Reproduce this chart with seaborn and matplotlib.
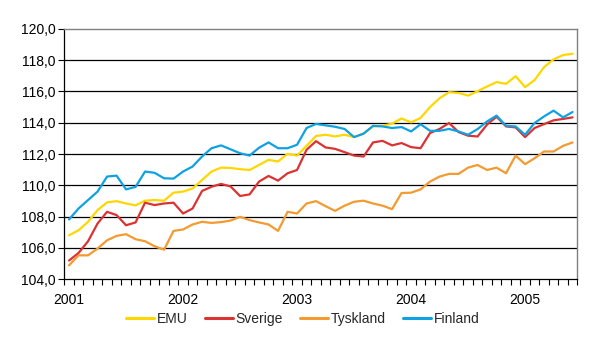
import numpy as np
import pandas as pd
import matplotlib
matplotlib.use("Agg")
import matplotlib.pyplot as plt
import seaborn as sns

# Monthly index values, January 2001 - June 2005
emu = [106.81, 107.13, 107.67, 108.42, 108.91, 108.99, 108.84, 108.72, 109.02, 109.06,
       109.02, 109.53, 109.60, 109.80, 110.34, 110.88, 111.13, 111.11, 111.03, 110.98,
       111.30, 111.63, 111.52, 112.01, 111.90, 112.52, 113.15, 113.23, 113.12, 113.23,
       113.08, 113.30, 113.76, 113.80, 113.94, 114.27, 114.02, 114.30, 115.00, 115.56,
       115.95, 115.90, 115.73, 116.01, 116.31, 116.59, 116.48, 116.97, 116.27, 116.72,
       117.55, 118.04, 118.32, 118.40]
sverige = [105.20, 105.68, 106.43, 107.56, 108.31, 108.10, 107.45, 107.63, 108.89, 108.74,
           108.84, 108.89, 108.20, 108.52, 109.64, 109.91, 110.09, 109.93, 109.32, 109.42,
           110.24, 110.60, 110.30, 110.77, 110.98, 112.27, 112.82, 112.42, 112.33, 112.12,
           111.90, 111.84, 112.74, 112.84, 112.55, 112.70, 112.44, 112.37, 113.34, 113.60,
           113.98, 113.40, 113.17, 113.12, 113.88, 114.38, 113.76, 113.70, 113.08, 113.66,
           113.91, 114.15, 114.24, 114.34]
tyskland = [104.89, 105.53, 105.53, 105.96, 106.49, 106.77, 106.88, 106.56, 106.43, 106.11,
            105.89, 107.09, 107.18, 107.50, 107.67, 107.60, 107.65, 107.75, 107.99, 107.78,
            107.63, 107.50, 107.09, 108.31, 108.20, 108.84, 108.99, 108.67, 108.37, 108.70,
            108.95, 109.02, 108.84, 108.70, 108.48, 109.51, 109.53, 109.74, 110.24, 110.56,
            110.73, 110.73, 111.13, 111.30, 110.98, 111.13, 110.77, 111.90, 111.35, 111.73,
            112.16, 112.16, 112.52, 112.74]
finland = [107.82, 108.52, 109.06, 109.60, 110.56, 110.62, 109.74, 109.90, 110.88, 110.80,
           110.45, 110.43, 110.88, 111.20, 111.84, 112.37, 112.55, 112.30, 112.05, 111.90,
           112.40, 112.74, 112.37, 112.37, 112.59, 113.66, 113.92, 113.83, 113.74, 113.60,
           113.08, 113.30, 113.80, 113.76, 113.66, 113.72, 113.44, 113.90, 113.48, 113.48,
           113.60, 113.44, 113.23, 113.59, 114.08, 114.45, 113.80, 113.76, 113.23, 113.98,
           114.40, 114.77, 114.34, 114.68]

series_names = ["EMU", "Sverige", "Tyskland", "Finland"]
series_colors = ["#FFD700", "#DC3232", "#F39A30", "#0EA2E2"]
year_labels = ["2001", "2002", "2003", "2004", "2005"]

months = np.arange(len(emu))
df = pd.concat([
    pd.DataFrame({"month": months, "value": vals, "series": name})
    for name, vals in zip(series_names, [emu, sverige, tyskland, finland])
])

sns.set_theme(style="white")
plt.rcParams["font.family"] = ["Liberation Sans", "DejaVu Sans"]

fig = plt.figure(figsize=(6.02, 3.38), dpi=100)
ax = fig.add_axes([0.1068, 0.1737, 0.8522, 0.7413])

sns.lineplot(data=df, x="month", y="value", hue="series", hue_order=series_names,
             palette=series_colors, linewidth=1.6, ax=ax, legend=True)

ax.set_xlim(-0.5, len(emu) - 0.5)
ax.set_ylim(104, 120)
ax.set_yticks(np.arange(104, 120.1, 2))
ax.set_yticklabels([f"{v:.1f}".replace(".", ",") for v in np.arange(104, 120.1, 2)],
                   fontsize=10, color="black")
ax.set_xticks(np.arange(0, len(emu), 12))
ax.set_xticklabels(year_labels, fontsize=10, color="black")
ax.set_xticks(np.arange(-0.5, len(emu), 1), minor=True)
ax.tick_params(axis="x", which="major", length=0, pad=10)
ax.tick_params(axis="x", which="minor", length=4, width=0.8, color="black", direction="out", bottom=True)
ax.tick_params(axis="y", which="major", length=4, width=0.8, color="black", direction="out", left=True, pad=2)
ax.set_xlabel("")
ax.set_ylabel("")

for y in np.arange(106, 120, 2):
    ax.axhline(y, color="black", linewidth=0.9, zorder=0)

for side in ["left", "bottom"]:
    ax.spines[side].set_color("black")
    ax.spines[side].set_linewidth(0.9)
for side in ["top", "right"]:
    ax.spines[side].set_color("#808080")
    ax.spines[side].set_linewidth(1.0)
    ax.spines[side].set_visible(True)

handles, labels = ax.get_legend_handles_labels()
ax.legend_.remove()
for h in handles:
    h.set_linewidth(2.2)
fig.legend(handles, labels, loc="center", bbox_to_anchor=(0.503, 0.056), ncol=4,
           frameon=False, fontsize=10, handlelength=2.0, handletextpad=0.2,
           columnspacing=1.25)

fig.savefig("out.png", dpi=100)
